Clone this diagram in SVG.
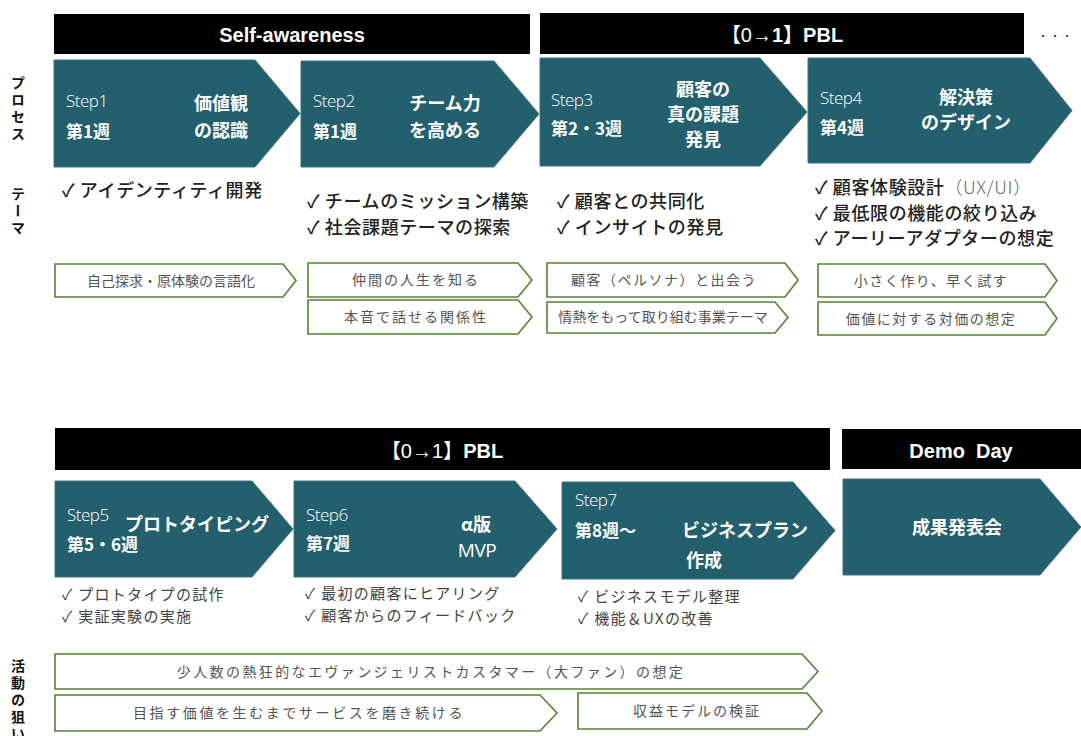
<svg xmlns="http://www.w3.org/2000/svg" width="1081" height="736" viewBox="0 0 1081 736">
<defs>
<style>
.bar{fill:#000}
.bartxt{fill:#fff;font-family:"Liberation Sans","Noto Sans CJK JP",sans-serif;font-weight:bold;font-size:20px;text-anchor:middle}
.chev{fill:#245F6E;stroke:#3d7685;stroke-width:1}
.step{fill:#fff;font-family:"Open Sans","Noto Sans",sans-serif;font-weight:300;font-size:17px;letter-spacing:-0.5px}
.wk{fill:#fff;font-family:"Noto Sans CJK JP",sans-serif;font-weight:bold;font-size:17px}
.ttl{fill:#fff;font-family:"Noto Sans CJK JP",sans-serif;font-weight:bold;font-size:18px;text-anchor:middle}
.theme{fill:#222;font-family:"Noto Sans CJK JP",sans-serif;font-weight:500;font-size:18px;letter-spacing:0.6px}
.chk{fill:#444;font-family:"Noto Sans CJK JP",sans-serif;font-size:15px;letter-spacing:1.3px}
.gbox{fill:#fff;stroke:#548235;stroke-width:1.6}
.gtxt{fill:#555;font-family:"Noto Sans CJK JP",sans-serif;font-size:14px;text-anchor:middle}
.side{fill:#111;font-family:"Noto Sans CJK JP",sans-serif;font-weight:bold;font-size:14px;letter-spacing:3px;writing-mode:vertical-rl}
</style>
</defs>

<g id="side-labels">
<text class="side" x="18" y="76">プロセス</text>
<text class="side" x="18" y="187">テーマ</text>
<text class="side" x="18" y="659">活動の狙い</text>
</g>

<g id="phase-self-awareness">
<rect class="bar" x="54" y="14" width="476" height="40"/>
<text class="bartxt" x="292" y="42">Self-awareness</text>
</g>
<g id="phase-pbl-1">
<rect class="bar" x="540" y="13" width="484" height="41"/>
<text class="bartxt" x="782" y="42"><tspan font-weight="normal">【0→</tspan>1】PBL</text>
</g>
<g id="ellipsis">
<text x="1040" y="41" font-family="Liberation Sans,sans-serif" font-size="18" fill="#222" letter-spacing="6">···</text>
</g>

<g id="step1">
<path class="chev" d="M54 60H255L300 113.5L255 167H54Z"/>
<text class="step" x="66" y="107">Step1</text>
<text class="wk" x="66" y="138">第1週</text>
<text class="ttl" x="221" y="110">価値観</text>
<text class="ttl" x="221" y="137">の認識</text>
</g>
<g id="step2">
<path class="chev" d="M301 61H494L539 114L494 167H301Z"/>
<text class="step" x="313" y="107">Step2</text>
<text class="wk" x="313" y="138">第1週</text>
<text class="ttl" x="445" y="110">チーム力</text>
<text class="ttl" x="445" y="137">を高める</text>
</g>
<g id="step3">
<path class="chev" d="M540 58H760L807 112L760 166H540Z"/>
<text class="step" x="551" y="106">Step3</text>
<text class="wk" x="551" y="135">第2・3週</text>
<text class="ttl" x="703" y="96">顧客の</text>
<text class="ttl" x="703" y="121">真の課題</text>
<text class="ttl" x="703" y="146">発見</text>
</g>
<g id="step4">
<path class="chev" d="M808 58H1030L1072 110.5L1030 163H808Z"/>
<text class="step" x="820" y="104">Step4</text>
<text class="wk" x="820" y="134">第4週</text>
<text class="ttl" x="966" y="104">解決策</text>
<text class="ttl" x="966" y="129">のデザイン</text>
</g>

<g id="themes-row1">
<text class="theme" x="62" y="197">✓ アイデンティティ開発</text>
<text class="theme" x="307" y="208">✓ チームのミッション構築</text>
<text class="theme" x="307" y="234">✓ 社会課題テーマの探索</text>
<text class="theme" x="557" y="208">✓ 顧客との共同化</text>
<text class="theme" x="557" y="234">✓ インサイトの発見</text>
<text class="theme" x="815" y="194">✓ 顧客体験設計<tspan fill="#666" font-weight="300">（UX/UI）</tspan></text>
<text class="theme" x="815" y="220">✓ 最低限の機能の絞り込み</text>
<text class="theme" x="815" y="245">✓ アーリーアダプターの想定</text>
</g>

<g id="goal-1">
<path class="gbox" d="M55 264H283L296 280.5L283 297H55Z"/>
<text class="gtxt" x="171" y="286">自己探求・原体験の言語化</text>
</g>
<g id="goal-2">
<path class="gbox" d="M308 263H518L532 280L518 297H308Z"/>
<text class="gtxt" x="416" y="285" letter-spacing="2">仲間の人生を知る</text>
</g>
<g id="goal-3">
<path class="gbox" d="M308 300H518L532 317L518 334H308Z"/>
<text class="gtxt" x="416" y="322" letter-spacing="2">本音で話せる関係性</text>
</g>
<g id="goal-4">
<path class="gbox" d="M547 263H785L798 280L785 297H547Z"/>
<text class="gtxt" x="664" y="285" letter-spacing="1.5">顧客（ペルソナ）と出会う</text>
</g>
<g id="goal-5">
<path class="gbox" d="M547 302H775L788 317.5L775 333H547Z"/>
<text class="gtxt" x="663" y="322">情熱をもって取り組む事業テーマ</text>
</g>
<g id="goal-6">
<path class="gbox" d="M818 264H1045L1057 280.5L1045 297H818Z"/>
<text class="gtxt" x="931" y="286" letter-spacing="1.5">小さく作り、早く試す</text>
</g>
<g id="goal-7">
<path class="gbox" d="M818 302H1045L1057 318.5L1045 335H818Z"/>
<text class="gtxt" x="931" y="324" letter-spacing="1.5">価値に対する対価の想定</text>
</g>

<g id="phase-pbl-2">
<rect class="bar" x="55" y="428" width="775" height="42"/>
<text class="bartxt" x="442" y="458"><tspan font-weight="normal">【0→1】</tspan>PBL</text>
</g>
<g id="phase-demo-day">
<rect class="bar" x="842" y="429" width="239" height="40"/>
<text class="bartxt" x="961" y="458" xml:space="preserve">Demo  Day</text>
</g>

<g id="step5">
<path class="chev" d="M55 481H252L293 529L252 577H55Z"/>
<text class="step" x="67" y="521">Step5</text>
<text class="wk" x="67" y="551">第5・6週</text>
<text class="ttl" x="197" y="531">プロトタイピング</text>
</g>
<g id="step6">
<path class="chev" d="M294 481H515L557 529L515 577H294Z"/>
<text class="step" x="306" y="521">Step6</text>
<text class="wk" x="306" y="550">第7週</text>
<text class="ttl" x="476" y="531">α版</text>
<text class="step" x="477" y="557" style="text-anchor:middle;font-size:19px;font-weight:400">MVP</text>
</g>
<g id="step7">
<path class="chev" d="M562 482H793L835 530.5L793 579H562Z"/>
<text class="step" x="575" y="506">Step7</text>
<text class="wk" x="575" y="537">第8週〜</text>
<text class="ttl" x="745" y="537">ビジネスプラン</text>
<text class="ttl" x="704" y="567">作成</text>
</g>
<g id="demo-day">
<path class="chev" d="M843 479H1040L1081 527L1040 575H843Z"/>
<text class="ttl" x="957" y="534">成果発表会</text>
</g>

<g id="checks-row2">
<text class="chk" x="62" y="600">✓ プロトタイプの試作</text>
<text class="chk" x="62" y="622">✓ 実証実験の実施</text>
<text class="chk" x="305" y="599">✓ 最初の顧客にヒアリング</text>
<text class="chk" x="305" y="621">✓ 顧客からのフィードバック</text>
<text class="chk" x="578" y="602">✓ ビジネスモデル整理</text>
<text class="chk" x="578" y="624">✓ 機能＆UXの改善</text>
</g>

<g id="aim-1">
<path class="gbox" d="M55 654H802L818 671.5L802 689H55Z"/>
<text class="gtxt" x="431" y="677" letter-spacing="2.4">少人数の熱狂的なエヴァンジェリストカスタマー（大ファン）の想定</text>
</g>
<g id="aim-2">
<path class="gbox" d="M55 695H540L557 713L540 731H55Z"/>
<text class="gtxt" x="299" y="718" letter-spacing="2.6">目指す価値を生むまでサービスを磨き続ける</text>
</g>
<g id="aim-3">
<path class="gbox" d="M578 693H807L822 711L807 729H578Z"/>
<text class="gtxt" x="697" y="716" letter-spacing="2">収益モデルの検証</text>
</g>
</svg>
